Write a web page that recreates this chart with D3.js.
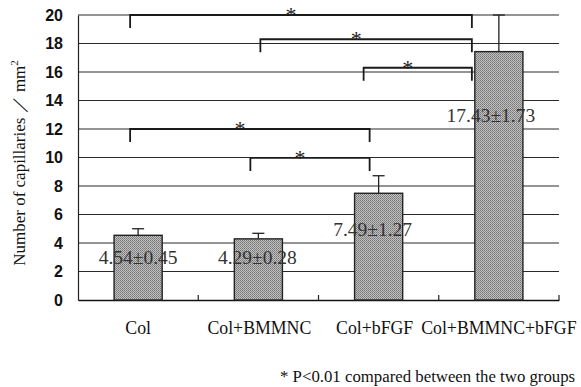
<!DOCTYPE html>
<html>
<head>
<meta charset="utf-8">
<script src="https://cdn.jsdelivr.net/npm/d3@7"></script>
<style>
  body { margin: 0; background: #fff; }
  svg { display: block; }
</style>
</head>
<body>
<script>
// data
const groups = ['Col', 'Col+BMMNC', 'Col+bFGF', 'Col+BMMNC+bFGF'];
const means = [4.54, 4.29, 7.49, 17.43];
const errUp = [0.46, 0.39, 1.23, 2.57];   // drawn whisker length
const valueLabels = ['4.54\u00b10.45', '4.29\u00b10.28', '7.49\u00b11.27', '17.43\u00b11.73'];
const yTicks = [0, 2, 4, 6, 8, 10, 12, 14, 16, 18, 20];

// significance brackets: from group, to group, height
const sigFrom = ['Col', 'Col+BMMNC', 'Col+bFGF', 'Col', 'Col+BMMNC'];
const sigTo = ['Col+BMMNC+bFGF', 'Col+BMMNC+bFGF', 'Col+BMMNC+bFGF', 'Col+bFGF', 'Col+bFGF'];
const sigLevel = [20, 18.3, 16.3, 12, 9.97];

const W = 581, H = 387;
const m = { left: 78, right: 22, top: 15, bottom: 87 };
const serif = "'Liberation Serif', 'Times New Roman', serif";

const svg = d3.select('body').append('svg')
    .attr('width', W)
    .attr('height', H);

const defs = svg.append('defs');
const pat = defs.append('pattern')
    .attr('id', 'dots')
    .attr('width', 2).attr('height', 2)
    .attr('patternUnits', 'userSpaceOnUse');
pat.append('rect').attr('width', 2).attr('height', 2).attr('fill', '#c0c0c0');
pat.append('rect').attr('width', 1).attr('height', 1).attr('fill', '#757575');
pat.append('rect').attr('x', 1).attr('y', 1).attr('width', 1).attr('height', 1).attr('fill', '#8a8a8a');

const x = d3.scaleBand()
    .domain(groups)
    .range([m.left, W - m.right])
    .paddingInner(0)
    .paddingOuter(0);

const y = d3.scaleLinear()
    .domain([0, 20])
    .range([H - m.bottom, m.top]);

const bw = x.bandwidth();
const barW = bw * 0.4;
const cx = g => x(g) + bw / 2;

// gridlines
svg.append('g')
    .selectAll('line')
    .data(yTicks.filter(d => d > 0))
    .join('line')
    .attr('x1', m.left).attr('x2', W - m.right)
    .attr('y1', d => y(d)).attr('y2', d => y(d))
    .attr('stroke', '#2a2a2a')
    .attr('stroke-width', 1.2);

// y axis
const yAxis = svg.append('g')
    .attr('transform', `translate(${m.left},0)`)
    .call(d3.axisLeft(y).tickValues(yTicks).tickSize(0).tickPadding(15));
yAxis.select('.domain').attr('stroke', '#222').attr('stroke-width', 1.2);
yAxis.selectAll('text')
    .style('font-family', "'Liberation Sans', Arial, sans-serif")
    .attr('font-weight', 'bold')
    .attr('font-size', 16)
    .attr('fill', '#111');

// x axis
const xAxis = svg.append('g')
    .attr('transform', `translate(0,${y(0)})`)
    .call(d3.axisBottom(x).tickSize(0).tickPadding(21));
xAxis.select('.domain').attr('stroke', '#111').attr('stroke-width', 1.6);
xAxis.selectAll('text')
    .style('font-family', serif)
    .attr('font-size', 17.8)
    .attr('fill', '#111')
    .attr('x', g => g === 'Col+bFGF' ? -4 : (g === 'Col+BMMNC' ? 1 : 0));

// category separators on the baseline
svg.append('g')
    .selectAll('line')
    .data(groups)
    .join('line')
    .attr('x1', g => x(g) + bw).attr('x2', g => x(g) + bw)
    .attr('y1', y(0)).attr('y2', y(0) - 5)
    .attr('stroke', '#222').attr('stroke-width', 1.2);

// error whiskers
const eb = svg.append('g').attr('stroke', '#222').attr('stroke-width', 1.3);
groups.forEach((g, i) => {
  const top = Math.min(20, means[i] + errUp[i]);
  eb.append('line')
      .attr('x1', cx(g)).attr('x2', cx(g))
      .attr('y1', y(means[i])).attr('y2', y(top));
  eb.append('line')
      .attr('x1', cx(g) - 6).attr('x2', cx(g) + 6)
      .attr('y1', y(top)).attr('y2', y(top));
});

// bars
svg.append('g')
    .selectAll('rect')
    .data(groups)
    .join('rect')
    .attr('x', (g, i) => cx(g) - barW / 2)
    .attr('y', (g, i) => y(means[i]))
    .attr('width', barW)
    .attr('height', (g, i) => y(0) - y(means[i]))
    .attr('fill', 'url(#dots)')
    .attr('stroke', '#222')
    .attr('stroke-width', 1.4);

// value labels
const labelAt = [3.0, 3.0, 5.0, 13.0];
const labelShift = [0, -1, -6, -8];
svg.append('g')
    .selectAll('text')
    .data(groups)
    .join('text')
    .attr('x', (g, i) => cx(g) + labelShift[i])
    .attr('y', (g, i) => y(labelAt[i]))
    .attr('dy', '0.35em')
    .attr('text-anchor', 'middle')
    .style('font-family', serif)
    .attr('font-size', 19.5)
    .attr('fill', '#333')
    .text((g, i) => valueLabels[i]);

// significance brackets
// where each bracket leg lands relative to the group centre
const legLeft = { 'Col': -8, 'Col+BMMNC': 2, 'Col+bFGF': -15 };
const legLeftLow = { 'Col': -8, 'Col+BMMNC': -8 };
const legRight = { 'Col+BMMNC+bFGF': -27, 'Col+bFGF': -9 };
const sg = svg.append('g');
sigFrom.forEach((f, i) => {
  const low = sigLevel[i] <= 12;
  const x1 = cx(f) + (low ? legLeftLow[f] : legLeft[f]);
  const x2 = cx(sigTo[i]) + legRight[sigTo[i]];
  const yy = y(sigLevel[i]);
  sg.append('path')
      .attr('d', `M${x1},${yy + 13}V${yy}H${x2}V${yy + 13}`)
      .attr('fill', 'none')
      .attr('stroke', '#1a1a1a')
      .attr('stroke-width', 1.8);
  sg.append('text')
      .attr('x', (x1 + x2) / 2 - 10)
      .attr('y', yy + 7)
      .attr('text-anchor', 'middle')
      .style('font-family', serif)
      .attr('font-size', 22)
      .attr('fill', '#222')
      .text('*');
});

// y title
svg.append('text')
    .attr('transform', `translate(25,${163}) rotate(-90)`)
    .attr('text-anchor', 'middle')
    .style('font-family', serif)
    .attr('font-size', 17)
    .attr('fill', '#111')
    .html('Number of capillaries \uff0f mm<tspan dy="-7" font-size="11">2</tspan>');

// footnote
svg.append('text')
    .attr('x', 280)
    .attr('y', 382)
    .style('font-family', serif)
    .attr('font-size', 16.8)
    .attr('fill', '#111')
    .text('* P<0.01 compared between the two groups');
</script>
</body>
</html>
